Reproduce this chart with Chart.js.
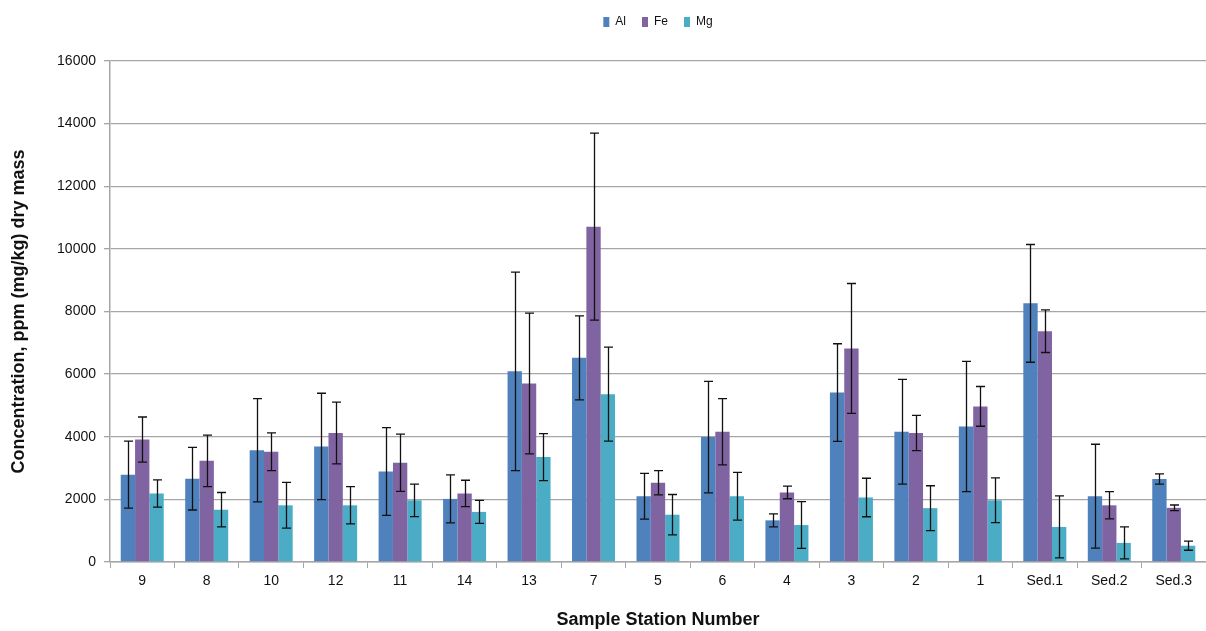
<!DOCTYPE html>
<html>
<head>
<meta charset="utf-8">
<script src="https://cdn.jsdelivr.net/npm/chart.js@4.4.1/dist/chart.umd.min.js"></script>
<style>
  html, body { margin: 0; padding: 0; background: #fff; }
  #wrap { width: 1206px; height: 631px; }
</style>
</head>
<body>
<div id="wrap"><canvas id="myChart" width="1206" height="631"></canvas></div>
<script>
// stations in the order they appear on the x axis
const stations = ['9', '8', '10', '12', '11', '14', '13', '7', '5', '6', '4', '3', '2', '1', 'Sed.1', 'Sed.2', 'Sed.3'];

// mean concentrations, ppm (mg/kg) dry mass
const alValues = [2790, 2660, 3570, 3690, 2890, 2015, 6090, 6520, 2100, 3990, 1330, 5410, 4160, 4330, 8260, 2100, 2650];
const feValues = [3910, 3230, 3520, 4120, 3170, 2190, 5700, 10710, 2530, 4160, 2220, 6820, 4120, 4970, 7370, 1810, 1730];
const mgValues = [2190, 1670, 1810, 1810, 1970, 1600, 3350, 5360, 1510, 2100, 1180, 2060, 1720, 1970, 1120, 610, 520];

// error bar half-lengths
const alErr = [1070, 1000, 1650, 1700, 1400, 765, 3170, 1340, 730, 1780, 210, 1560, 1670, 2080, 1880, 1660, 165];
const feErr = [720, 825, 605, 985, 915, 420, 2250, 2985, 385, 1060, 200, 2075, 560, 635, 680, 435, 90];
const mgErr = [435, 550, 730, 595, 518, 365, 750, 1500, 645, 765, 745, 615, 715, 715, 990, 510, 145];

const yTicks = [0, 2000, 4000, 6000, 8000, 10000, 12000, 14000, 16000];

const FONT = "'Liberation Sans', Arial, sans-serif";

// draws the error bars on top of each bar, using the y scale
const errorBars = {
  id: 'errorBars',
  afterDatasetsDraw(chart) {
    const ctx = chart.ctx;
    const yScale = chart.scales.y;
    ctx.save();
    ctx.strokeStyle = '#111';
    ctx.lineWidth = 1.3;
    chart.data.datasets.forEach((ds, i) => {
      const meta = chart.getDatasetMeta(i);
      meta.data.forEach((bar, j) => {
        const v = ds.data[j];
        const e = ds.errors[j];
        const yHi = yScale.getPixelForValue(v + e);
        const yLo = yScale.getPixelForValue(Math.max(v - e, 0));
        const x = Math.round(bar.x) + 0.5;
        ctx.beginPath();
        ctx.moveTo(x, yHi);
        ctx.lineTo(x, yLo);
        ctx.moveTo(x - 4.5, yHi);
        ctx.lineTo(x + 4.5, yHi);
        ctx.moveTo(x - 4.5, yLo);
        ctx.lineTo(x + 4.5, yLo);
        ctx.stroke();
      });
    });
    ctx.restore();
  }
};

// keep the legend block a fixed height so the plot starts where it should
const legendHeight = {
  id: 'legendHeight',
  afterInit(chart) {
    const lg = chart.legend;
    if (!lg) return;
    const fit = lg.fit;
    lg.fit = function () {
      fit.call(this);
      this.height = 61;
    };
  }
};

const ctx = document.getElementById('myChart').getContext('2d');
new Chart(ctx, {
  type: 'bar',
  data: {
    labels: stations,
    datasets: [
      { label: 'Al', data: alValues, errors: alErr, backgroundColor: '#4F81BD' },
      { label: 'Fe', data: feValues, errors: feErr, backgroundColor: '#8064A2' },
      { label: 'Mg', data: mgValues, errors: mgErr, backgroundColor: '#4BACC6' }
    ]
  },
  options: {
    responsive: false,
    animation: false,
    devicePixelRatio: 1,
    layout: { padding: { top: 0, left: 0, right: 0, bottom: 0 } },
    datasets: {
      bar: { barPercentage: 1.0, categoryPercentage: 0.667 }
    },
    plugins: {
      tooltip: { enabled: false },
      legend: {
        position: 'top',
        fullSize: false,
        labels: {
          boxWidth: 6,
          boxHeight: 10,
          padding: 16,
          color: '#111',
          font: { family: FONT, size: 12 }
        }
      }
    },
    scales: {
      x: {
        grid: {
          offset: true,
          drawOnChartArea: false,
          drawTicks: true,
          tickLength: 6,
          color: '#A6A6A6',
          lineWidth: 1
        },
        border: { color: '#A6A6A6', width: 1.5 },
        ticks: {
          color: '#111',
          padding: 5,
          font: { family: FONT, size: 14 }
        },
        title: {
          display: true,
          text: 'Sample Station Number',
          color: '#111',
          padding: { top: 0, bottom: 0 },
          font: { family: FONT, size: 18, weight: 'bold' }
        },
        afterFit(scale) { scale.height = 69; }
      },
      y: {
        min: 0,
        max: 16000,
        afterBuildTicks(scale) {
          scale.ticks = yTicks.map(v => ({ value: v }));
        },
        grid: {
          color: '#A6A6A6',
          lineWidth: 1.3,
          tickLength: 6
        },
        border: { color: '#A6A6A6', width: 1.5 },
        ticks: {
          color: '#111',
          padding: 8,
          font: { family: FONT, size: 14 },
          callback: v => String(v)
        },
        title: {
          display: true,
          text: 'Concentration, ppm (mg/kg) dry mass',
          color: '#111',
          padding: { top: 8, bottom: 0 },
          font: { family: FONT, size: 18, weight: 'bold' }
        },
        afterFit(scale) { scale.width = 110; }
      }
    }
  },
  plugins: [errorBars, legendHeight]
});
</script>
</body>
</html>
